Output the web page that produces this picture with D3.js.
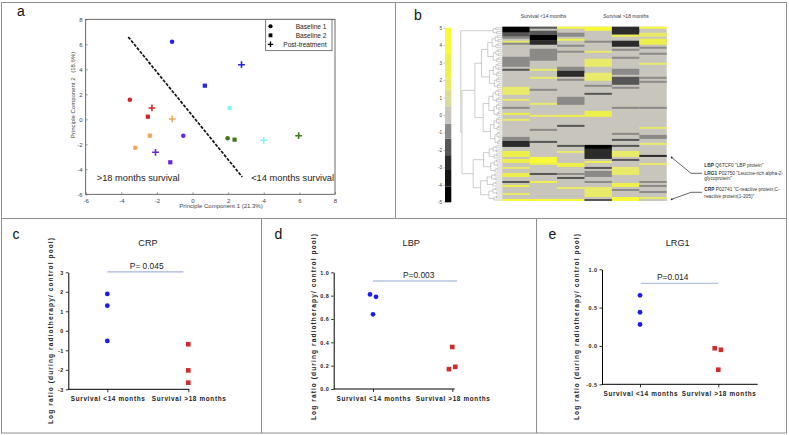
<!DOCTYPE html>
<html><head><meta charset="utf-8">
<script src="https://cdn.jsdelivr.net/npm/d3@7"></script>
<style>body{margin:0;background:#fff}svg{display:block;font-family:"Liberation Sans",Arial,sans-serif}</style>
</head><body><svg id="c" width="789" height="435"></svg>
<script>
// ================= DATA =================
// Panel a: PCA
const pcaPC1 = [-1.15, 0.69, 2.75, 2.08, 4.0, 1.97, 2.36, 5.96, -3.52, -2.28, -2.51, -1.14, -2.40, -3.22, -0.52, -2.08, -1.25];
const pcaPC2 = [6.2, 2.69, 4.37, 0.91, -1.68, -1.52, -1.63, -1.31, 1.57, 0.91, 0.21, 0.03, -1.31, -2.27, -1.31, -2.64, -3.44];
const pcaSample = ["Baseline 1","Baseline 2","Post-treatment","Baseline 2","Post-treatment","Baseline 1","Baseline 2","Post-treatment","Baseline 1","Post-treatment","Baseline 2","Post-treatment","Baseline 2","Baseline 1","Baseline 1","Post-treatment","Baseline 2"];
const pcaPatient = ["P1","P1","P1","P2","P2","P3","P3","P3","P4","P4","P4","P5","P5","P5","P6","P6","P6"];
const pcaTicks = [-6,-4,-2,0,2,4,6,8];
const pcaDivider = [[-3.61,6.59],[2.79,-4.61]];
const pcaLegend = ["Baseline 1","Baseline 2","Post-treatment"];
const pcaGroupText = [">18 months survival","<14 months survival"];

// Panel b: heatmap  [column, firstRow, lastRow, value]; all other cells = 0
const heatGroups = ["Survival <14 months","Survival >18 months"];
const heatColumnCount = 6;
const heatRowCount = 87;
const heatCells = [
 [0,0,2,-4.5],[0,3,4,-2],[0,5,5,-1],[0,7,7,1.5],[0,8,8,-1],[0,15,19,-1],[0,21,21,-2],[0,30,33,1.5],[0,36,36,1.5],[0,40,40,-1],[0,43,43,3],[0,46,46,2],[0,55,56,-1],[0,57,59,-3],[0,62,64,3],[0,66,67,3],[0,70,70,2],[0,73,74,3],[0,77,77,-2],[0,79,79,3],[0,83,83,1.5],[0,86,86,4.5],
 [1,0,0,-2],[1,2,3,-2],[1,4,6,-4.5],[1,7,8,-2.5],[1,11,16,-1],[1,21,21,2],[1,25,25,2],[1,31,31,-1],[1,38,38,2],[1,44,44,2],[1,51,51,-1],[1,57,57,-2],[1,65,67,4.5],[1,68,68,3],[1,73,73,-1.5],[1,77,77,3],[1,86,86,4],
 [2,0,0,4.5],[2,3,4,-1],[2,6,6,3],[2,9,9,-1],[2,12,12,-1],[2,20,21,-1],[2,22,24,-2.5],[2,26,26,-1],[2,35,38,-1],[2,44,44,3],[2,49,49,-2],[2,59,59,-2],[2,62,62,2],[2,68,69,3],[2,73,73,-1],[2,75,75,-1.5],[2,80,80,2],[2,86,86,4],
 [3,0,1,4],[3,7,7,-1],[3,12,12,1.5],[3,16,19,1.5],[3,23,26,1.5],[3,29,29,-1],[3,33,33,-1.5],[3,42,44,3],[3,59,60,-4.5],[3,61,65,-2.5],[3,67,67,3],[3,70,70,-1.5],[3,72,74,-1],[3,77,77,-1],[3,80,84,1.5],[3,86,86,-1.5],
 [4,0,3,-3],[4,4,4,3],[4,7,9,-3],[4,11,11,-1],[4,15,15,-1],[4,21,23,-1],[4,25,28,-2],[4,30,30,-1],[4,40,40,-1],[4,53,53,-1],[4,56,56,-1.5],[4,59,59,-1.5],[4,62,64,1.5],[4,66,66,-2],[4,70,73,1.5],[4,78,79,3],[4,81,81,-1],[4,85,86,4.5],
 [5,0,0,4.5],[5,3,4,2],[5,6,8,2.5],[5,10,10,-1],[5,13,13,-1],[5,18,18,1.5],[5,25,25,-1],[5,27,27,-1],[5,40,40,-1],[5,50,50,2],[5,54,55,-1],[5,58,58,2],[5,64,64,-2.5],[5,68,68,2],[5,77,77,-1],[5,79,79,-1],[5,82,82,-1],[5,85,85,1.5]
];
const colorbarTicks = [5,4,3,2,1,0,-1,-2,-3,-4,-5];
const heatThresholds = [-4.1,-3.15,-2.3,-1.35,-0.5,0.5,1.45,2.1,3.5];
// dendrogram merge heights (0..1) over row ranges
const dendroTree = {h:1.0, kids:[
  {h:0.22, rows:[0,3]},
  {h:0.97, kids:[
    {h:0.66, kids:[{h:0.5, rows:[4,30]},{h:0.46, rows:[31,58]}]},
    {h:0.7, kids:[{h:0.45, rows:[59,72]},{h:0.52, rows:[73,86]}]}
  ]}
]};
const annotations = [
  {row:62, lines:[["LBP"," Q6TCF0 \"LBP protein\""],["LRG1"," P02750 \"Leucine-rich alpha-2-"],["","glycoprotein\""]]},
  {row:86, lines:[["CRP"," P02741 \"C-reactive protein;C-"],["","reactive protein(1-205)\""]]}
];

// Panels c, d, e
const scatterGroups = ["Survival <14 months","Survival >18 months"];
const crpShort = [1.89, 1.29, -0.52];
const crpLong = [-0.69, -2.03, -2.66];
const lbpShort = [0.81, 0.79, 0.64];
const lbpLong = [0.36, 0.17, 0.19];
const lrg1Short = [0.66, 0.44, 0.28];
const lrg1Long = [-0.03, -0.05, -0.31];
const crpTicks = [-3,-2,-1,0,1,2,3];
const lbpTicks = [0,0.2,0.4,0.6,0.8,1.0];
const lrg1Ticks = [-0.5,0,0.5,1.0];
const pValues = ["P= 0.045","P=0.003","P=0.014"];

// ================= DRAW =================
const svg = d3.select("#c");

// panel borders
const bd = svg.append("g").attr("stroke","#8f8f8f").attr("stroke-width",1).attr("fill","none");
bd.append("rect").attr("x",1.5).attr("y",2.5).attr("width",785).attr("height",430.5);
bd.append("line").attr("x1",1.5).attr("x2",786.5).attr("y1",218.5).attr("y2",218.5);
bd.append("line").attr("x1",395.5).attr("x2",395.5).attr("y1",2.5).attr("y2",218.5);
bd.append("line").attr("x1",261.5).attr("x2",261.5).attr("y1",218.5).attr("y2",433);
bd.append("line").attr("x1",536.5).attr("x2",536.5).attr("y1",218.5).attr("y2",433);

// panel letters
const letters = [["a",17,15.5],["b",414,20],["c",12.5,238.5],["d",274.5,238.5],["e",548.5,239]];
svg.selectAll("text.letter").data(letters).join("text").attr("class","letter")
  .attr("x",d=>d[1]).attr("y",d=>d[2]).text(d=>d[0]).attr("font-size",14).attr("fill","#111");

// ---------- Panel a ----------
const ax = d3.scaleLinear().domain([-6,8]).range([85.7,335]);
const ay = d3.scaleLinear().domain([-6,8]).range([194.3,19.3]);
const gA = svg.append("g");
const hy = v => (v<0?"-":"")+Math.abs(v);
const xa = gA.append("g").attr("transform","translate(0,194.3)")
  .call(d3.axisBottom(ax).tickValues(pcaTicks).tickSize(-2).tickSizeOuter(0).tickPadding(4).tickFormat(hy));
const ya = gA.append("g").attr("transform","translate(85.7,0)")
  .call(d3.axisLeft(ay).tickValues(pcaTicks).tickSize(-2).tickSizeOuter(0).tickPadding(3).tickFormat(hy));
[xa,ya].forEach(g=>{g.select(".domain").remove();g.selectAll("line").attr("stroke","#555").attr("stroke-width",0.6);
  g.selectAll("text").attr("font-size",6).attr("fill","#444").attr("font-family","Liberation Sans, Arial");});
gA.append("rect").attr("x",ax(-6)).attr("y",ay(8)).attr("width",ax(8)-ax(-6)).attr("height",ay(-6)-ay(8))
  .attr("fill","none").attr("stroke","#444").attr("stroke-width",0.8);
gA.append("text").attr("x",221).attr("y",208).attr("text-anchor","middle").attr("font-size",6).attr("fill","#444")
  .text("Principle Component 1 (21.3%)");
gA.append("text").attr("transform","translate(75.3,95) rotate(-90)").attr("text-anchor","middle").attr("font-size",6).attr("fill","#444")
  .text("Principle Component 2 \u2002(18.6%)");

// divider
gA.append("line").attr("x1",ax(pcaDivider[0][0])).attr("y1",ay(pcaDivider[0][1]))
  .attr("x2",ax(pcaDivider[1][0])).attr("y2",ay(pcaDivider[1][1]))
  .attr("stroke","#111").attr("stroke-width",1.7).attr("stroke-dasharray","3.2,1.4");

const patientColor = d3.scaleOrdinal().domain(["P1","P2","P3","P4","P5","P6"])
  .range(["#2424ee","#84f4f4","#3c7a1c","#d42626","#f0a654","#6826d8"]);
const symbolPath = {
  "Baseline 1": "M2.3,0A2.3,2.3 0 1,1 -2.3,0A2.3,2.3 0 1,1 2.3,0Z",
  "Baseline 2": "M-2.1,-2.1H2.1V2.1H-2.1Z",
  "Post-treatment": "M-3.4,-0.8H-0.8V-3.4H0.8V-0.8H3.4V0.8H0.8V3.4H-0.8V0.8H-3.4Z"
};
gA.selectAll("path.pt").data(d3.range(pcaPC1.length)).join("path").attr("class","pt")
  .attr("transform",i=>`translate(${ax(pcaPC1[i])},${ay(pcaPC2[i])})`)
  .attr("d",i=>symbolPath[pcaSample[i]]).attr("fill",i=>patientColor(pcaPatient[i]));

gA.selectAll("text.grp").data(pcaGroupText).join("text").attr("class","grp")
  .attr("x",(d,i)=>ax(i?3.29:-5.38)).attr("y",ay(-4.96)).attr("font-size",9.3).attr("fill","#222").text(d=>d);

// legend
const lg = gA.append("g");
lg.append("rect").attr("x",265.7).attr("y",19.3).attr("width",66.3).attr("height",31.4).attr("fill","#fff").attr("stroke","#444").attr("stroke-width",0.7);
pcaLegend.forEach((s,i)=>{
  const y = 26.3 + i*9;
  lg.append("path").attr("transform",`translate(270.5,${y}) scale(${i==2?0.8:0.9})`).attr("d",symbolPath[s]).attr("fill","#000");
  lg.append("text").attr("x",326.5).attr("y",y+2.2).attr("text-anchor","end").attr("font-size",6.6).attr("fill","#222").text(s);
});

// ---------- Panel b ----------
const gB = svg.append("g");
const hx = d3.scaleBand().domain(d3.range(heatColumnCount)).range([502.3,666.7]);
const hyS = d3.scaleBand().domain(d3.range(heatRowCount)).range([26.7,201]);
const heatColor = d3.scaleThreshold().domain(heatThresholds)
  .range(["#020202","#141414","#2b2b2b","#565656","#8b8a88","#c8c5bc","#dadb98","#e9e96a","#efef4c","#f9f93a"]);
gB.append("rect").attr("x",502.3).attr("y",26.7).attr("width",164.4).attr("height",174.3).attr("fill",heatColor(0));
gB.selectAll("rect.cell").data(heatCells).join("rect").attr("class","cell")
  .attr("x",d=>hx(d[0])).attr("width",hx.bandwidth())
  .attr("y",d=>hyS(d[1])).attr("height",d=>hyS(d[2])-hyS(d[1])+hyS.bandwidth())
  .attr("fill",d=>heatColor(d[3]));
gB.selectAll("text.hg").data(heatGroups).join("text").attr("class","hg")
  .attr("x",(d,i)=>i?626:543.5).attr("y",18.3).attr("text-anchor","middle").attr("font-size",5).attr("fill","#333").text(d=>d);

// colorbar
const cb = d3.scaleLinear().domain([-5,5]).range([202.3,27.7]);
const bands = heatColor.range().map(c=>{const e=heatColor.invertExtent(c);return [Math.max(e[0]??-5,-5),Math.min(e[1]??5,5),c];}).filter(b=>b[1]>b[0]);
gB.selectAll("rect.cb").data(bands).join("rect").attr("class","cb")
  .attr("x",445).attr("width",6.3).attr("y",d=>cb(d[1])).attr("height",d=>cb(d[0])-cb(d[1])).attr("fill",d=>d[2]);
const cbAxis = gB.append("g").attr("transform","translate(445,0)")
  .call(d3.axisLeft(cb).tickValues(colorbarTicks).tickSize(1.5).tickPadding(1.5).tickFormat(hy));
cbAxis.select(".domain").remove();
cbAxis.selectAll("line").attr("stroke","#777").attr("stroke-width",0.5);
cbAxis.selectAll("text").attr("font-size",4.6).attr("fill","#444").attr("font-family","Liberation Sans, Arial");

// dendrogram
const dx = d3.scaleLinear().domain([0,1]).range([502.3,460.7]);
const dendro = gB.append("g").attr("stroke","#9a9a9a").attr("stroke-width",0.5).attr("fill","none");
function nodeKids(n){
  if(n.kids) return n.kids;
  const [a,b]=n.rows; const m=Math.floor((a+b)/2);
  const mk=(r0,r1,f)=> r0===r1?{h:0,leaf:r0}:{h:n.h*f,rows:[r0,r1]};
  return [mk(a,m,0.7),mk(m+1,b,0.62)];
}
function drawNode(n){
  if(n.leaf!==undefined) return hyS(n.leaf)+hyS.bandwidth()/2;
  const kids=nodeKids(n);
  const ys=kids.map(k=>drawNode(k));
  const x=dx(n.h);
  dendro.append("line").attr("x1",x).attr("x2",x).attr("y1",ys[0]).attr("y2",ys[ys.length-1]);
  kids.forEach((k,i)=>dendro.append("line").attr("x1",x).attr("x2",dx(k.h)).attr("y1",ys[i]).attr("y2",ys[i]));
  return (ys[0]+ys[ys.length-1])/2;
}
drawNode(dendroTree);

// annotations
const an = gB.append("g");
const annLayout = [{dot:[671.7,157.5],elbow:[691,173.3],end:[702,173.3],ty:[166.8,174.6,180.2]},
                   {dot:[671.7,199.3],elbow:[691,192.3],end:[702,192.3],ty:[190.6,197.6]}];
annotations.forEach((a,i)=>{
  const L=annLayout[i];
  an.append("circle").attr("cx",L.dot[0]).attr("cy",L.dot[1]).attr("r",0.9).attr("fill","#222");
  an.append("polyline").attr("points",[L.dot,L.elbow,L.end].map(p=>p.join(",")).join(" ")).attr("fill","none").attr("stroke","#222").attr("stroke-width",0.7);
  a.lines.forEach((ln,j)=>{
    const t=an.append("text").attr("x",704.3).attr("y",L.ty[j]).attr("font-size",4.8).attr("fill","#333");
    t.append("tspan").attr("font-weight","bold").text(ln[0]);
    t.append("tspan").text(ln[1]);
  });
});

// ---------- Panels c, d, e ----------
const panels = [
  {title:"CRP", tx:148, short:crpShort, long:crpLong, sj:[0,0,0], lj:[0,0,0], ticks:crpTicks, fmt:hy,
   yAxisX:68.3, c0:107.3, c1:188.3, xEnd:189.3, dom:[-3,3], rng:[389.3,272.3], yTitleX:52.8, yTitleY:331, p:pValues[0], pY:3.02, pFrom:0, pTo:0.94, pCol:"#a6b4dc", ptx:146.7},
  {title:"LBP", tx:411.3, short:lbpShort, long:lbpLong, sj:[-0.038,0.038,0], lj:[0,-0.042,0.038], ticks:lbpTicks, fmt:v=>v.toFixed(1),
   yAxisX:333.7, c0:373, c1:452.3, xEnd:454.7, dom:[0,1], rng:[389,272.3], yTitleX:315.8, yTitleY:327, p:pValues[1], pY:0.925, pFrom:0, pTo:1.06, pCol:"#93a4dc", ptx:418.7},
  {title:"LRG1", tx:677.7, short:lrg1Short, long:lrg1Long, sj:[0,0,0], lj:[-0.046,0.034,0], ticks:lrg1Ticks, fmt:v=>(v<0?"-":"")+Math.abs(v).toFixed(1),
   yAxisX:602, c0:640, c1:718.3, xEnd:757.7, dom:[-0.5,1], rng:[384.3,269.3], yTitleX:578.8, yTitleY:327, p:pValues[2], pY:0.817, pFrom:0.01, pTo:1.0, pCol:"#b4c2e2", ptx:672.7}
];
panels.forEach(P=>{
  const g=svg.append("g");
  const y=d3.scaleLinear().domain(P.dom).range(P.rng);
  const x=d3.scaleLinear().domain([0,1]).range([P.c0,P.c1]);
  const yb=P.rng[0];
  g.append("text").attr("x",P.tx).attr("y",245.5).attr("text-anchor","middle").attr("font-size",9.2).attr("fill","#222").text(P.title);
  const yA=g.append("g").attr("transform",`translate(${P.yAxisX},0)`)
    .call(d3.axisLeft(y).tickValues(P.ticks).tickSize(2.5).tickSizeOuter(0).tickPadding(2).tickFormat(P.fmt));
  yA.select(".domain").attr("stroke","#000").attr("stroke-width",1);
  yA.selectAll("line").attr("stroke","#000").attr("stroke-width",0.8);
  yA.selectAll("text").attr("font-size",5.4).attr("font-weight","bold").attr("letter-spacing",0.5).attr("fill","#222").attr("font-family","Liberation Sans, Arial");
  g.append("line").attr("x1",P.yAxisX).attr("x2",P.xEnd).attr("y1",yb).attr("y2",yb).attr("stroke","#000").attr("stroke-width",1);
  const xA=g.append("g").attr("transform",`translate(0,${yb})`)
    .call(d3.axisBottom(x).tickValues([0,1]).tickSize(3).tickPadding(4.5).tickFormat(i=>scatterGroups[i]));
  xA.select(".domain").remove();
  xA.selectAll("line").attr("stroke","#000").attr("stroke-width",0.8);
  xA.selectAll("text").attr("font-size",6.4).attr("font-weight","bold").attr("textLength",74).attr("lengthAdjust","spacing")
    .attr("fill","#222").attr("font-family","Liberation Sans, Arial");
  g.append("text").attr("transform",`translate(${P.yTitleX},${P.yTitleY}) rotate(-90)`).attr("text-anchor","middle")
    .attr("font-size",6.6).attr("font-weight","bold").attr("textLength",186).attr("lengthAdjust","spacing").attr("fill","#222")
    .text("Log ratio (during radiotherapy/ control pool)");
  // p line
  g.append("line").attr("x1",x(P.pFrom)).attr("x2",x(P.pTo)).attr("y1",y(P.pY)).attr("y2",y(P.pY)).attr("stroke",P.pCol).attr("stroke-width",1.1);
  g.append("text").attr("x",P.ptx).attr("y",y(P.pY)-3).attr("text-anchor","middle").attr("font-size",8.4).attr("fill","#222").text(P.p);
  // points
  g.selectAll("circle.s").data(P.short).join("circle").attr("class","s")
    .attr("cx",(d,i)=>x(0+P.sj[i])).attr("cy",d=>y(d)).attr("r",2.4).attr("fill","#1c1cee");
  g.selectAll("rect.l").data(P.long).join("rect").attr("class","l")
    .attr("x",(d,i)=>x(1+P.lj[i])-2.3).attr("y",d=>y(d)-2.3).attr("width",4.6).attr("height",4.6).attr("fill","#d42a2a");
});
</script></body></html>
